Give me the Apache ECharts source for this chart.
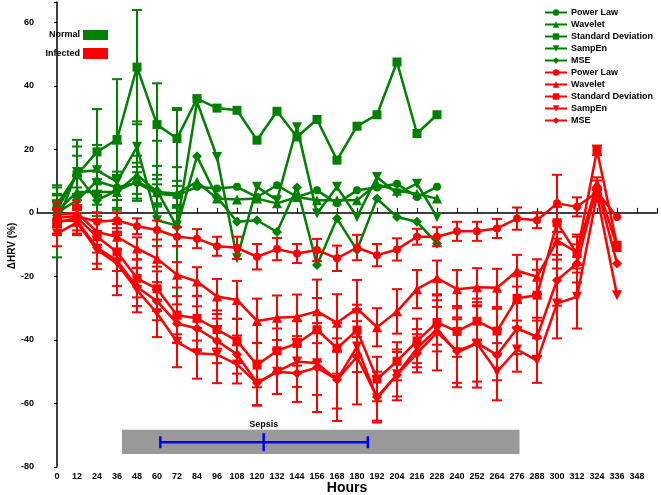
<!DOCTYPE html>
<html lang="en">
<head>
    <meta charset="UTF-8">
    <title>HRV</title>
    <script src="https://cdn.jsdelivr.net/npm/echarts@6/dist/echarts.min.js"></script>
    <style>
        html, body { margin: 0; padding: 0; background: #fff; }
        #main { width: 661px; height: 495px; }
    </style>
</head>
<body>
<div id="main"></div>
<script>
    // hours
    let greenHours = [0, 12, 24, 36, 48, 60, 72, 84, 96, 108, 120, 132, 144, 156, 168, 180, 192, 204, 216, 228];
    let redHours = [0, 12, 24, 36, 48, 60, 72, 84, 96, 108, 120, 132, 144, 156, 168, 180, 192, 204, 216, 228,
        240, 252, 264, 276, 288, 300, 312, 324, 336];

    // Normal (green)
    let gPowerLaw = [0, 4, 10, 8, 9.5, 6, 5.5, 8.2, 7.7, 8.2, 5, 8.7, 5, 7.1, 3, 7.1, 8, 9.2, 5, 8.2];
    let gWavelet = [0.5, 6.6, 6.6, 6.6, 12, 6.6, 6.1, 9.8, 4.5, 4.2, 4.5, 3, 5, 4, 4, 4, 9, 7, 6, 4.5];
    let gStdDev = [2.7, 12, 19.2, 23.1, 45.9, 27.8, 23.4, 36, 33, 32.3, 22.9, 32, 23.9, 29.4, 16.6, 27.3, 30.9, 47.5, 25, 30.9];
    let gSampEn = [-3, 12.9, 13.4, 9.8, 20.8, -2.3, -4, 35, 17.6, -14.3, 8.2, 4, 27, -0.2, 8.2, -1.3, 11.3, 6.1, 9.2, -1.3];
    let gMSE = [1, 12, 4, 7, 9.8, 7, -4.4, 17.8, 5, -2.8, -2.3, -6, 8, -16.4, -1.8, -11.7, 4.5, -1.3, -2.8, -9.6];

    let gPowerLawErr = [4, 4, 3, 4, 5, 3, 3];
    let gWaveletErr = [5, 5, 4, 5, 6, 4, 4];
    let gStdDevErr = [6, 11, 13.5, 19, 18, 13, 9];
    let gSampEnErr = [11, 8, 8, 12, 8, 25, 37];
    let gMSEErr = [5, 6, 5, 6, 6, 5, 6];

    // Infected (red)
    let rPowerLaw = [-1.5, -1, -2.8, -2.3, -4.2, -5.4, -7.5, -8.1, -10.5, -11, -13.8, -11.4, -12.8, -11.7, -14.3,
        -10.9, -13.3, -11.5, -7.5, -7.5, -5.8, -5.8, -4.9, -1.8, -2.3, 3, 1.9, 6.6, -1.3];
    let rWavelet = [-0.5, 0, -6, -7.5, -11.2, -14.4, -19.5, -21.6, -26.3, -27.4, -34, -33, -32.7, -31, -34.6,
        -30.1, -36, -31, -24, -20.5, -24, -23.4, -23.6, -18.2, -20.1, -8.7, -12.5, 9.2, -10.7];
    let rStdDev = [-3, -1.5, -7.5, -12.3, -20.6, -23.9, -32.2, -33.2, -36.7, -40.3, -47.9, -43.4, -41.1, -36.8, -42.6,
        -36.9, -52.3, -46.7, -40.3, -34.5, -37.3, -34.1, -37.2, -26.9, -25.9, -3.1, -12.8, 19.7, -10.2];
    let rSampEn = [-6.5, -3, -11.7, -15.9, -24.3, -31.6, -40.6, -44.2, -44.6, -47.7, -53.7, -50, -46.8, -47.3, -52.6,
        -42.1, -58.4, -50.8, -42.6, -36.6, -43.9, -41.1, -50, -43, -46.5, -28.5, -26.4, 5.6, -25.9];
    let rMSE = [-2.5, -2.5, -11, -15, -23.3, -27.8, -34.8, -36.4, -40.3, -44.6, -53.5, -50, -50.5, -48.7, -52.5,
        -45.3, -58, -51, -44.2, -37.6, -43.5, -41, -44.7, -36.4, -39, -21.2, -15.9, 8.2, -15.9];

    let rPowerLawErr = [3, 3, 3, 2.5, 2.5, 3, 3, 3, 3, 3.5, 4, 3.5, 3, 3.5, 4, 4, 3.5, 3.5, 2.5, 3, 3, 3, 3, 3.5, 2.5, 9, 3, 1, 0];
    let rWaveletErr = [4, 4, 4, 4, 3.5, 4, 4, 4.5, 5.5, 6, 7, 7, 7, 10, 9, 9, 6, 7, 6, 5.5, 6, 6, 6, 5, 5.5, 6, 5, 2, 0];
    let rStdDevErr = [4, 4, 5, 6, 6, 7, 6, 7, 6, 7, 7, 7, 7, 10, 8, 8, 7, 6, 7, 7, 8, 6, 7, 7, 8, 5, 6, 1.5, 0];
    let rSampEnErr = [4, 4, 6, 10, 7, 7.5, 8, 8, 9, 6, 7, 7, 8, 10, 9, 8, 7, 7, 6, 7, 11, 12, 9, 7, 7, 11, 10, 2, 0];
    let rMSEErr = [4, 4, 5, 8, 6, 6, 6, 7, 7, 6, 7, 7, 9, 14, 13, 15, 8, 8, 6, 12, 10, 14, 8, 8, 6, 8, 6, 2, 0];

    // sepsis annotation (hours / %)
    let sepsisBand = [39, 277.5];
    let sepsisBandY = [-68.3, -75.9];
    let sepsisOnset = [62, 124, 186.5]; // earliest, mean, latest
    let sepsisY = -72.2;

    let methodNames = ['Power Law', 'Wavelet', 'Standard Deviation', 'SampEn', 'MSE'];

    const GREEN = '#008000';
    const RED = '#ff0000';
    const FONT = 'Liberation Sans, Arial, sans-serif';
    const downTri = 'path://M0,0 L10,0 L5,10 Z';
    const symbols = ['circle', 'triangle', 'rect', downTri, 'diamond'];
    const sizes = [8, 10, 9, 10, 10];

    function lineSeries(name, hours, vals, color, idx) {
        return {
            type: 'line',
            name: name,
            data: hours.map((h, i) => [h, vals[i]]),
            symbol: symbols[idx],
            symbolSize: sizes[idx],
            showAllSymbol: true,
            lineStyle: {color: color, width: 2.5},
            itemStyle: {color: color},
            z: color === RED ? 4 : 3
        };
    }

    function errSeries(name, hours, vals, errs, color) {
        let data = [];
        hours.forEach((h, i) => {
            if (errs[i]) data.push([h, vals[i] - errs[i], vals[i] + errs[i]]);
        });
        return {
            type: 'custom',
            name: name + ' err',
            silent: true,
            z: color === RED ? 4 : 3,
            encode: {x: 0, y: [1, 2]},
            data: data,
            renderItem: function (params, api) {
                let lo = api.coord([api.value(0), api.value(1)]);
                let hi = api.coord([api.value(0), api.value(2)]);
                let w = 5;
                let st = {stroke: color, lineWidth: 2};
                return {
                    type: 'group', children: [
                        {type: 'line', shape: {x1: lo[0], y1: lo[1], x2: hi[0], y2: hi[1]}, style: st},
                        {type: 'line', shape: {x1: lo[0] - w, y1: lo[1], x2: lo[0] + w, y2: lo[1]}, style: st},
                        {type: 'line', shape: {x1: hi[0] - w, y1: hi[1], x2: hi[0] + w, y2: hi[1]}, style: st}
                    ]
                };
            }
        };
    }

    let gVals = [gPowerLaw, gWavelet, gStdDev, gSampEn, gMSE];
    let gErrs = [gPowerLawErr, gWaveletErr, gStdDevErr, gSampEnErr, gMSEErr];
    let rVals = [rPowerLaw, rWavelet, rStdDev, rSampEn, rMSE];
    let rErrs = [rPowerLawErr, rWaveletErr, rStdDevErr, rSampEnErr, rMSEErr];

    let series = [];
    let legendNames = [];

    // sepsis band first so it sits under everything
    series.push({
        type: 'custom',
        name: 'sepsis',
        silent: true,
        z: 1,
        data: [[sepsisBand[0], sepsisBand[1], sepsisBandY[0], sepsisBandY[1]]],
        encode: {x: [0, 1], y: [2, 3]},
        renderItem: function (params, api) {
            let p1 = api.coord([api.value(0), api.value(2)]);
            let p2 = api.coord([api.value(1), api.value(3)]);
            let a = api.coord([sepsisOnset[0], sepsisY]);
            let m = api.coord([sepsisOnset[1], sepsisY]);
            let b = api.coord([sepsisOnset[2], sepsisY]);
            let st = {stroke: '#0000ff', lineWidth: 2.5};
            return {
                type: 'group', children: [
                    {type: 'rect', shape: {x: p1[0], y: p1[1], width: p2[0] - p1[0], height: p2[1] - p1[1]},
                        style: {fill: '#999999'}},
                    {type: 'line', shape: {x1: a[0], y1: a[1], x2: b[0], y2: b[1]}, style: st},
                    {type: 'line', shape: {x1: a[0], y1: a[1] - 6, x2: a[0], y2: a[1] + 6}, style: st},
                    {type: 'line', shape: {x1: b[0], y1: b[1] - 6, x2: b[0], y2: b[1] + 6}, style: st},
                    {type: 'line', shape: {x1: m[0], y1: m[1] - 9, x2: m[0], y2: m[1] + 9}, style: st},
                    {type: 'text', x: m[0], y: p1[1] - 1,
                        style: {text: 'Sepsis', fill: '#000', font: 'bold 9px ' + FONT, align: 'center', verticalAlign: 'bottom'}}
                ]
            };
        }
    });

    methodNames.forEach((n, i) => {
        series.push(errSeries(n, greenHours, gVals[i], gErrs[i], GREEN));
    });
    methodNames.forEach((n, i) => {
        series.push(lineSeries(n, greenHours, gVals[i], GREEN, i));
        legendNames.push(n);
    });
    methodNames.forEach((n, i) => {
        series.push(errSeries(n + ' ', redHours, rVals[i], rErrs[i], RED));
    });
    methodNames.forEach((n, i) => {
        series.push(lineSeries(n + ' ', redHours, rVals[i], RED, i));
        legendNames.push(n + ' ');
    });

    let myChart = echarts.init(document.getElementById('main'));
    let option = {
        animation: false,
        backgroundColor: '#fff',
        textStyle: {fontFamily: FONT},
        grid: {left: 37, right: 4, top: 2, bottom: 28, containLabel: false, outerBoundsMode: 'none'},
        legend: {
            data: legendNames,
            orient: 'vertical',
            left: 544,
            top: 8,
            itemWidth: 22,
            itemHeight: 8,
            itemGap: 3,
            padding: 0,
            selectedMode: false,
            textStyle: {fontSize: 9, fontWeight: 'bold', color: '#000', fontFamily: FONT, padding: [0, 0, 0, -1]}
        },
        xAxis: {
            type: 'value',
            min: -12,
            max: 360,
            interval: 12,
            name: 'Hours',
            nameLocation: 'middle',
            nameGap: 14,
            nameMoveOverlap: false,
            nameTextStyle: {fontSize: 14, fontWeight: 'bold', color: '#000', fontFamily: FONT},
            splitLine: {show: false},
            axisLine: {lineStyle: {color: '#000', width: 1.5}},
            axisTick: {inside: true, length: 5, lineStyle: {color: '#000'}},
            axisLabel: {
                fontSize: 9, fontWeight: 'bold', color: '#000', margin: 5, fontFamily: FONT,
                formatter: v => (v < 0 || v > 348) ? '' : String(v)
            }
        },
        yAxis: {
            type: 'value',
            min: -80,
            max: 66.4,
            interval: 20,
            splitLine: {show: false},
            axisLine: {lineStyle: {color: '#000', width: 1.5}},
            axisTick: {length: 3, lineStyle: {color: '#000'}},
            axisLabel: {
                fontSize: 9, fontWeight: 'bold', color: '#000', margin: 3, fontFamily: FONT,
                formatter: v => (v % 20 === 0) ? String(v) : ''
            }
        },
        graphic: [
            {type: 'text', x: 12, y: 246, rotation: Math.PI / 2,
                style: {text: 'ΔHRV (%)', font: 'bold 10px ' + FONT, fill: '#000', align: 'center', verticalAlign: 'middle'}},
            {type: 'text', right: 581, top: 30, style: {text: 'Normal', font: 'bold 9px ' + FONT, fill: '#000'}},
            {type: 'rect', left: 83, top: 30, shape: {width: 25, height: 10}, style: {fill: GREEN}},
            {type: 'text', right: 581, top: 49, style: {text: 'Infected', font: 'bold 9px ' + FONT, fill: '#000'}},
            {type: 'rect', left: 83, top: 48, shape: {width: 25, height: 11}, style: {fill: RED}}
        ],
        series: series
    };
    myChart.setOption(option);
</script>
</body>
</html>
